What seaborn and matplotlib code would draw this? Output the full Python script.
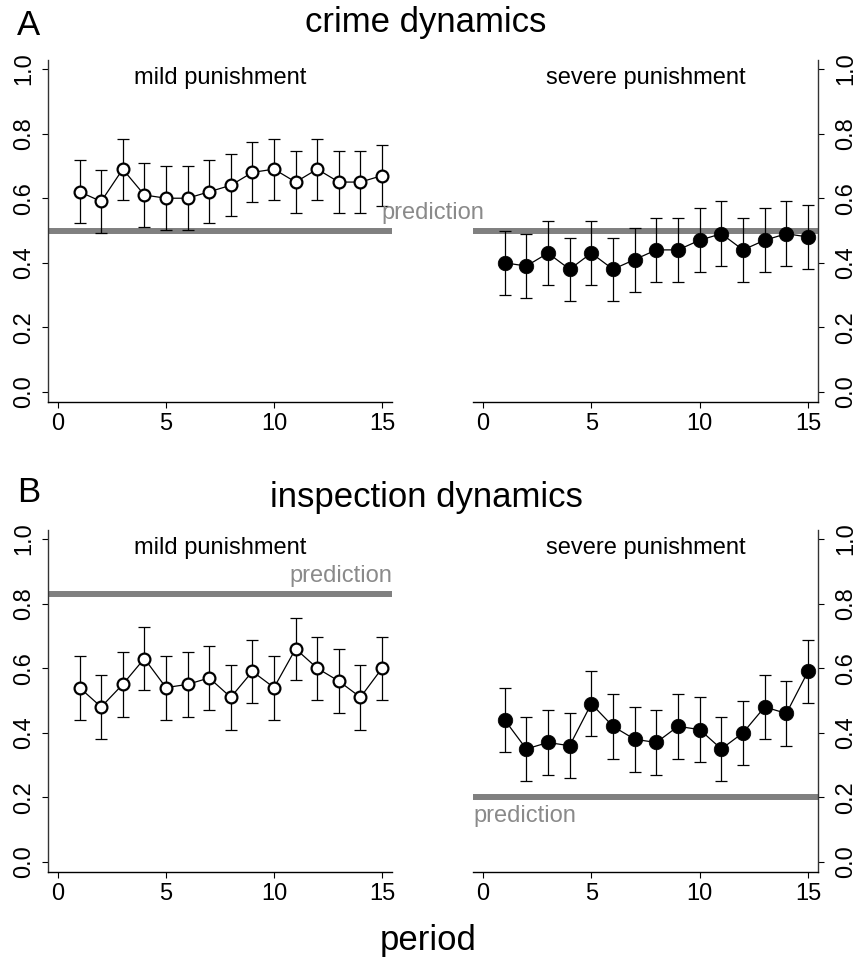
import matplotlib
matplotlib.use('Agg')
import matplotlib.pyplot as plt
import seaborn as sns

# values
periods = list(range(1, 16))

crime_mild = [0.62, 0.59, 0.69, 0.61, 0.60, 0.60, 0.62, 0.64, 0.68, 0.69, 0.65, 0.69, 0.65, 0.65, 0.67]
crime_mild_err = [0.097, 0.098, 0.094, 0.098, 0.099, 0.099, 0.097, 0.096, 0.093, 0.094, 0.096, 0.094, 0.096, 0.096, 0.094]
crime_severe = [0.40, 0.39, 0.43, 0.38, 0.43, 0.38, 0.41, 0.44, 0.44, 0.47, 0.49, 0.44, 0.47, 0.49, 0.48]
crime_severe_err = [0.10, 0.10, 0.10, 0.098, 0.10, 0.098, 0.099, 0.10, 0.10, 0.10, 0.10, 0.10, 0.10, 0.10, 0.10]

insp_mild = [0.54, 0.48, 0.55, 0.63, 0.54, 0.55, 0.57, 0.51, 0.59, 0.54, 0.66, 0.60, 0.56, 0.51, 0.60]
insp_mild_err = [0.099, 0.10, 0.10, 0.097, 0.099, 0.10, 0.098, 0.10, 0.097, 0.099, 0.095, 0.098, 0.099, 0.10, 0.098]
insp_severe = [0.44, 0.35, 0.37, 0.36, 0.49, 0.42, 0.38, 0.37, 0.42, 0.41, 0.35, 0.40, 0.48, 0.46, 0.59]
insp_severe_err = [0.10, 0.10, 0.10, 0.10, 0.10, 0.10, 0.10, 0.10, 0.10, 0.10, 0.10, 0.10, 0.10, 0.10, 0.097]

pred_crime_mild = 0.5
pred_crime_severe = 0.5
pred_insp_mild = 0.83
pred_insp_severe = 0.2

yticks = [0.0, 0.2, 0.4, 0.6, 0.8, 1.0]
ytick_labels = ['0.0', '0.2', '0.4', '0.6', '0.8', '1.0']
xticks = [0, 5, 10, 15]

sns.set_style('white')
plt.rcParams['font.family'] = ['Liberation Sans', 'DejaVu Sans']
plt.rcParams['text.color'] = 'black'
plt.rcParams['axes.labelcolor'] = 'black'
plt.rcParams['xtick.color'] = 'black'
plt.rcParams['ytick.color'] = 'black'

fig = plt.figure(figsize=(8.65, 9.63), dpi=100)

W, H = 865, 963
def px_axes(left, top, right, bottom):
    return fig.add_axes([left / W, 1 - bottom / H, (right - left) / W, (bottom - top) / H])

ax_cm = px_axes(48, 60, 392, 402)
ax_cs = px_axes(473, 60, 818, 402)
ax_im = px_axes(48, 530, 392, 872)
ax_is = px_axes(473, 530, 818, 872)

pred_gray = '#808080'
text_gray = '#8a8a8a'


def draw_panel(ax, y, err, pred, filled, side, label):
    ax.patch.set_alpha(0)
    ax.axhline(pred, color=pred_gray, lw=4.3, zorder=1)
    ax.errorbar(periods, y, yerr=err, fmt='none', ecolor='black',
                elinewidth=0.9, capsize=4.3, capthick=0.9, zorder=2)
    if filled:
        sns.lineplot(x=periods, y=y, ax=ax, color='black', lw=0.9, marker='o',
                     markersize=10.5, markerfacecolor='black', markeredgecolor='black',
                     markeredgewidth=0.5, zorder=3)
    else:
        sns.lineplot(x=periods, y=y, ax=ax, color='black', lw=0.9, marker='o',
                     markersize=8.5, markerfacecolor='white', markeredgecolor='black',
                     markeredgewidth=1.6, zorder=3)

    ax.set_xlim(-0.46, 15.46)
    ax.set_ylim(-0.031, 1.028)
    ax.set_xticks(xticks)
    ax.set_xticklabels([str(t) for t in xticks])
    ax.set_yticks(yticks)
    ax.set_yticklabels(ytick_labels)
    ax.set_xlabel('')
    ax.set_ylabel('')

    for s in ['top', 'left', 'right', 'bottom']:
        ax.spines[s].set_visible(False)
    ax.spines['bottom'].set_visible(True)
    ax.spines['bottom'].set_color('black')
    ax.spines['bottom'].set_linewidth(1.0)
    ax.spines[side].set_visible(True)
    ax.spines[side].set_color('#333333')
    ax.spines[side].set_linewidth(1.0)

    ax.tick_params(axis='x', direction='out', length=4, width=0.8, pad=4,
                   labelsize=17, colors='black', bottom=True)
    if side == 'left':
        ax.tick_params(axis='y', direction='out', length=4.3, width=0.8, pad=5,
                       labelsize=17, labelrotation=90, left=True, right=False)
    else:
        ax.yaxis.tick_right()
        ax.tick_params(axis='y', direction='out', length=4.3, width=0.8, pad=8,
                       labelsize=17, labelrotation=90, right=True, left=False)
    for lbl in ax.get_yticklabels():
        lbl.set_va('center')

    ax.text(7.5, 0.955, label, ha='center', va='baseline', fontsize=17)


draw_panel(ax_cm, crime_mild, crime_mild_err, pred_crime_mild, False, 'left', 'mild punishment')
draw_panel(ax_cs, crime_severe, crime_severe_err, pred_crime_severe, True, 'right', 'severe punishment')
draw_panel(ax_im, insp_mild, insp_mild_err, pred_insp_mild, False, 'left', 'mild punishment')
draw_panel(ax_is, insp_severe, insp_severe_err, pred_insp_severe, True, 'right', 'severe punishment')

# prediction labels
ax_cm.annotate('prediction', xy=(0.5, pred_crime_mild), xycoords=('figure fraction', 'data'),
               xytext=(0, 5), textcoords='offset points', ha='center', va='bottom',
               fontsize=17, color=text_gray, annotation_clip=False, zorder=10)
ax_im.annotate('prediction', xy=(1.0, pred_insp_mild), xycoords=('axes fraction', 'data'),
               xytext=(0, 5), textcoords='offset points', ha='right', va='bottom',
               fontsize=17, color=text_gray, annotation_clip=False)
ax_is.annotate('prediction', xy=(0.0, pred_insp_severe), xycoords=('axes fraction', 'data'),
               xytext=(0, -5.5), textcoords='offset points', ha='left', va='top',
               fontsize=17, color=text_gray, annotation_clip=False)

# panel letters and titles
fig.text(17 / W, 1 - 35 / H, 'A', fontsize=25, ha='left', va='baseline')
fig.text(426 / W, 1 - 32 / H, 'crime dynamics', fontsize=25, ha='center', va='baseline')
fig.text(17 / W, 1 - 502 / H, 'B', fontsize=25, ha='left', va='baseline')
fig.text(426 / W, 1 - 507 / H, 'inspection dynamics', fontsize=25, ha='center', va='baseline')
fig.text(428 / W, 1 - 940 / H, 'period', fontsize=25, ha='center', va='center')

fig.savefig('out.png', dpi=100)
